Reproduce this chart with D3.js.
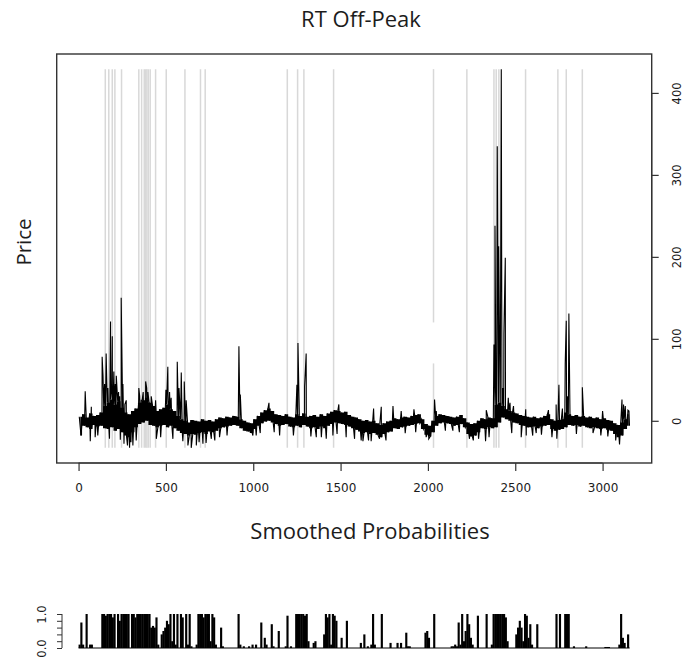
<!DOCTYPE html>
<html><head><meta charset="utf-8">
<script src="https://cdn.jsdelivr.net/npm/d3@7"></script>
<style>body{margin:0;background:#fff}svg{display:block}</style>
</head><body>
<script>
// ---------- DATA ----------
const title = "RT Off-Peak";
const yLabel = "Price";
const subTitle = "Smoothed Probabilities";
const xTicks = [0, 500, 1000, 1500, 2000, 2500, 3000];
const yTicks = [0, 100, 200, 300, 400];
const probTicks = [0, 0.2, 0.4, 0.6, 0.8, 1.0];
const probTickLabels = ["0.0", "", "", "", "", "1.0"];
const nObs = 3155;
const binWidth = 20; // price core band per 20 observations
const coreHi = [5,8,4,9,6,7,10,18,22,26, 20,24,16,10,8,12,15,22,25,28,
  22,18,12,14,16,20,14,12,6,2, 0,-2,1,0,-1,2,0,1,-1,2,
  4,3,5,4,6,5,2,0,-2,-3, 2,6,10,13,15,12,8,7,6,8,
  5,4,8,6,9,5,6,7,5,8, 6,9,11,13,12,10,11,7,5,4,
  2,0,1,-1,0,-3,-5,-3,-1,0, 3,2,4,5,4,6,7,8,2,-4,
  -6,0,6,8,7,6,5,4,5,7, 3,-2,-4,-3,0,3,2,4,3,20,
  22,18,14,12,10,9,7,6,5,4, 5,3,4,6,8,2,0,1,2,10,
  8,6,7,5,6,4,5,3,4,2, 3,1,0,-3,-5,-2,2,8];
const coreLo = [-18,-6,-8,-10,-5,-7,-6,-9,-10,-8, -12,-10,-14,-18,-20,-14,-8,-4,-2,0,
  -5,-6,-8,-6,-5,-8,-6,-9,-12,-15, -16,-18,-16,-17,-15,-14,-16,-13,-14,-12,
  -9,-8,-7,-6,-5,-6,-9,-12,-13,-15, -10,-6,-3,-1,0,-2,-4,-6,-5,-4,
  -7,-8,-6,-8,-5,-7,-9,-8,-10,-7, -9,-6,-4,-2,-3,-4,-5,-7,-9,-11,
  -13,-15,-14,-16,-15,-17,-20,-16,-14,-13, -9,-10,-8,-7,-6,-5,-4,-3,-10,-17,
  -19,-14,-6,-3,-2,-3,-4,-6,-5,-4, -8,-16,-19,-18,-14,-9,-10,-8,-9,-8,
  -2,4,2,0,-2,-3,-5,-6,-8,-8, -7,-9,-7,-6,-5,-10,-12,-11,-10,-8,
  -5,-6,-5,-7,-6,-8,-9,-8,-9,-10, -9,-11,-12,-16,-20,-18,-10,-6];
// isolated spikes (observation index, price)
const spikeX = [38,67,73,95,110,135,140,149,155,158,168,177,183,190,193,202,210,216,229,235,239,244,254,
  260,265,273,280,292,300,311,330,
  345,350,359,370,384,390,397,405,416,441,445,470,500,511,521,530,540,565,575,588,597,605,616,626,645,674,
  690,712,730,760,780,807,850,
  918,926,998,1017,1040,1090,1120,1151,1230,1250,1256,1294,1303,1330,1361,1390,1418,1456,1480,1490,1532,1580,1618,
  1628,1660,1675,1689,1723,1733,1760,1800,1847,1870,1920,1930,1990,2005,2038,2048,2100,2143,2180,2238,2260,2290,2330,2334,2350,
  2378,2384,2389,2397,2405,2412,2420,2428,2435,2443,2460,2470,2480,2490,2534,2560,2563,2600,2620,2650,2690,2710,
  2734,2738,2750,2770,2786,2792,2800,2807,2850,2884,2945,2990,3000,3030,3075,3097,3111,3120,3130,3145,3151];
const spikeY = [36,-25,17,-20,-18,78,55,45,30,82,40,-22,121,40,103,60,45,55,35,30,-23,150,45,
  -28,20,25,-30,-33,-26,-30,-24,
  40,30,25,35,48,40,35,22,30,25,-22,-20,38,66,35,28,-22,72,40,59,-25,48,25,-30,-33,-30,
  -26,-28,-27,-22,-24,-20,-18,
  91,32,-18,-18,-15,22,-14,-18,-18,44,95,42,82,-19,-20,-20,-22,-18,-16,20,-20,-22,-24,
  -25,-24,-25,15,-22,17,-24,18,12,-15,14,-14,-20,-22,26,12,-12,-12,-14,-22,-24,-22,-25,13,-20,
  93,238,50,335,213,54,429,40,106,199,28,22,-15,18,-20,14,-18,-18,-15,-17,13,-20,
  20,-22,44,15,70,122,30,131,-16,41,-15,-18,12,-19,-24,-29,26,20,18,13,12];
// shaded regime lines (observation index)
const regimeX = [153,173,193,208,246,345,361,376,384,391,399,410,441,502,609,698,725,
  1195,1254,1290,1460,2032,2223,2378,2391,2406,2559,2744,2792,2884];
const regimeGapX = [2032];
const regimeGapFrom = [70];
const regimeGapTo = [120];
// smoothed probabilities, one value per 10 observations
const probStep = 10;
const probs = [
  0.1,0.75,0.1,0,1,0,0.1,0.1,0,0, 0,0,0,1,1,0.95,1,1,1,0.9,
  1,0,1,0.8,1,1,1,1,1,0, 1,1,0.9,1,1,1,1,1,1,1,
  1,0.6,0.65,0.6,0.9,0.1,0,0.4,0.5,0.6, 0.8,0.7,1,0.2,1,0.1,1,0,1,0.9,
  0,1,0.1,1,0.05,0,0,0.1,1,1, 1,0.9,1,1,1,0.2,1,0.9,0.1,0,
  0,0.6,0.05,0,0,0,0,0,0,0, 0,1,0.1,0,0.05,0,0,0.05,0,0.1,
  0,0.1,0,0,0.75,0,0.3,0.1,0,0, 0.7,0.05,0,0,0.5,0,0,0,0.05,0.95,
  0,0.05,0,0,1,1,1,1,1,0.95, 1,0.2,0,0,0.15,0.2,0,0,0,0,
  0.4,1,0.9,1,0.1,1,0.95,0.8,0,0, 0.3,0,0,0.8,0,0,0,0,0,0,
  0,0.15,0,0.4,0,0.05,0,0.1,1,0.1, 0,0,0,1,0,0,0,0,0.15,0,
  0,0,0.15,0,0.15,0,0,0.45,0.05,0.05, 0,0,0,0,0,0,0,0,0.45,0.5,
  0.3,0,0,1,0,0,0,0,0,0, 0,0,0,0.05,0.05,0.1,0.05,0.75,0.1,1,
  0.2,0.5,1,0.7,0.3,0.1,0,0,0.95,0, 0,0,0,1,0,0,0.1,1,1,1,
  1,1,1,1,0.9,0.2,0,0,0,0, 0.4,0.6,0.8,0.6,0.2,1,0.95,0.3,0.7,0.1,
  0,0,0.7,0,0,0,0,0,0,0, 0,0,0,1,0,1,0,0,1,1,
  1,0,0,0.05,0,0,0,0,0,0, 0.05,0,0,0,0,0,0,0,0,0,
  0,0.03,0.03,0.03,0,0,0,0,0,0.1, 1,0.3,0.15,0,0.4,0];

// ---------- BUILD ----------
const W = 684, H = 665;
const svg = d3.select("body").append("svg").attr("width", W).attr("height", H);
const box = {l: 56.7, r: 651.7, t: 54, b: 463};
const font = "'Open Sans', sans-serif";
const tickFont = "'DejaVu Sans', sans-serif";
const ink = "#1c1c1c";

// price points
const pts = [];
coreHi.forEach((h, i) => {
  pts.push([i * binWidth + 4, h]);
  pts.push([i * binWidth + 14, coreLo[i]]);
});
spikeX.forEach((sx, i) => pts.push([sx, spikeY[i]]));
pts.sort((a, b) => a[0] - b[0]);
const band = coreHi.map((h, i) => ({x: i * binWidth + binWidth / 2, hi: h, lo: coreLo[i]}));

function rpad(ext) { const r = ext[1] - ext[0]; return [ext[0] - 0.04 * r, ext[1] + 0.04 * r]; }
const xExt = [1, nObs];
const yExt = d3.extent(pts, d => d[1]);
const x = d3.scaleLinear().domain(rpad(xExt)).range([box.l, box.r]);
const y = d3.scaleLinear().domain(rpad(yExt)).range([box.b, box.t]);

// regime lines
const rg = svg.append("g").attr("stroke", "#d8d8d8").attr("stroke-width", 1.5);
regimeX.forEach(rx => {
  const gi = regimeGapX.indexOf(rx);
  if (gi >= 0) {
    rg.append("line").attr("x1", x(rx)).attr("x2", x(rx)).attr("y1", y(yExt[1])).attr("y2", y(regimeGapTo[gi]));
    rg.append("line").attr("x1", x(rx)).attr("x2", x(rx)).attr("y1", y(regimeGapFrom[gi])).attr("y2", y(yExt[0]));
  } else {
    rg.append("line").attr("x1", x(rx)).attr("x2", x(rx)).attr("y1", y(yExt[1])).attr("y2", y(yExt[0]));
  }
});

// price core band + line
svg.append("path").datum(band)
  .attr("d", d3.area().x(d => x(d.x)).y0(d => y(d.lo)).y1(d => y(d.hi)).curve(d3.curveStep))
  .attr("fill", "#000");
svg.append("path").datum(pts)
  .attr("d", d3.line().x(d => x(d[0])).y(d => y(d[1])))
  .attr("fill", "none").attr("stroke", "#000").attr("stroke-width", 1.1);

// box
svg.append("rect").attr("x", box.l).attr("y", box.t).attr("width", box.r - box.l).attr("height", box.b - box.t)
  .attr("fill", "none").attr("stroke", "#333").attr("stroke-width", 1.4);

// bottom x axis
const xa = svg.append("g").attr("transform", `translate(0,${box.b})`)
  .call(d3.axisBottom(x).tickValues(xTicks).tickSize(8).tickPadding(12).tickFormat(d3.format("d")));
xa.select(".domain").attr("d", `M${x(xTicks[0])},0H${x(xTicks[xTicks.length-1])}`).attr("stroke", "#333").attr("stroke-width", 1.2);
xa.selectAll(".tick line").attr("stroke", "#333").attr("stroke-width", 1.2);
xa.selectAll("text").attr("font-family", tickFont).attr("font-size", 12).attr("fill", ink);

// right y axis
const ya = svg.append("g").attr("transform", `translate(${box.r},0)`)
  .call(d3.axisRight(y).tickValues(yTicks).tickSize(7));
ya.select(".domain").attr("d", `M0,${y(yTicks[0])}V${y(yTicks[yTicks.length-1])}`).attr("stroke", "#333").attr("stroke-width", 1.2);
ya.selectAll(".tick line").attr("stroke", "#333").attr("stroke-width", 1.2);
ya.selectAll("text").attr("font-family", tickFont).attr("font-size", 11.5).attr("fill", ink)
  .attr("x", 0).attr("text-anchor", "middle").attr("dy", "0.35em")
  .attr("transform", "translate(25,0) rotate(-90)");

// titles
svg.append("text").attr("x", 361).attr("y", 27).attr("text-anchor", "middle")
  .attr("font-family", font).attr("font-size", 22).attr("fill", ink).text(title);
svg.append("text").attr("transform", "translate(31,242) rotate(-90)").attr("text-anchor", "middle")
  .attr("font-family", font).attr("font-size", 20.5).attr("fill", ink).text(yLabel);
svg.append("text").attr("x", 370).attr("y", 539).attr("text-anchor", "middle")
  .attr("font-family", font).attr("font-size", 22).attr("fill", ink).text(subTitle);

// probability panel
const yb = d3.scaleLinear().domain([0, 1]).range([648, 614]);
const bw = x(probStep) - x(0);
svg.append("g").selectAll("rect").data(probs.map((v, i) => [i * probStep, v]).filter(d => d[1] > 0))
  .join("rect").attr("x", d => x(d[0])).attr("width", bw + 0.4)
  .attr("y", d => yb(d[1])).attr("height", d => yb(0) - yb(d[1])).attr("fill", "#000");
svg.append("line").attr("x1", x(0)).attr("x2", x(nObs)).attr("y1", yb(0)).attr("y2", yb(0))
  .attr("stroke", "#000").attr("stroke-width", 1);
const pa = svg.append("g").attr("transform", "translate(62,0)")
  .call(d3.axisLeft(yb).tickValues(probTicks).tickSize(5).tickFormat((d, i) => probTickLabels[i]));
pa.select(".domain").attr("d", `M0,${yb(0)}V${yb(1)}`).attr("stroke", "#333");
pa.selectAll(".tick line").attr("stroke", "#333");
pa.selectAll("text").attr("font-family", tickFont).attr("font-size", 11.5).attr("fill", ink)
  .attr("x", 0).attr("text-anchor", "middle").attr("dy", "0.35em")
  .attr("transform", "translate(-20,0) rotate(-90)");
</script>
</body></html>
